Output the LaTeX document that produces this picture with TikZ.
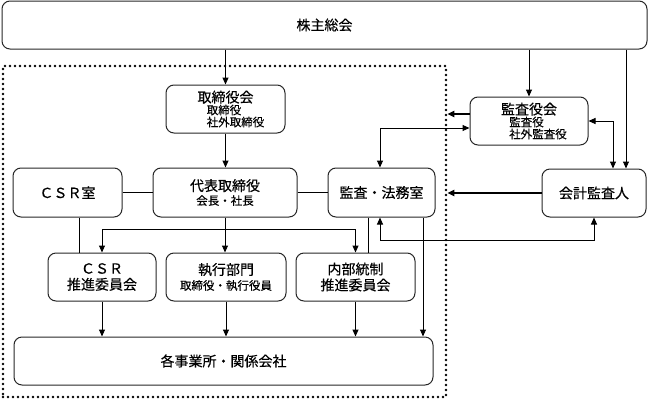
\documentclass[tikz,border=0pt]{standalone}
\usepackage{fontspec}
\setmainfont{Noto Sans CJK JP}[FakeBold=0.4]
\usetikzlibrary{arrows.meta, positioning, calc}
\newcommand{\yaku}[1]{{\fontsize{11.5}{12}\selectfont #1}}

\begin{document}
\begin{tikzpicture}[x=1pt, y=-1pt,
    box/.style={draw=black!85, line width=1pt, rounded corners=8pt, align=center, inner sep=0pt, font=\fontsize{14}{16}\selectfont},
    dotbox/.style={draw=black, line width=2.6pt, dash pattern=on 0pt off 5pt, line cap=round, inner sep=0pt},
    arr/.style={line width=1pt, -{Triangle[length=7pt,width=6pt]}},
    dblarr/.style={line width=1pt, {Triangle[length=7pt,width=6pt]}-{Triangle[length=7pt,width=6pt]}},
    thickarr/.style={line width=2pt, -{Triangle[length=7pt,width=6pt]}}]
    \useasboundingbox (0,0) rectangle (649,400);
    % shareholders at the top
    \node[box, minimum width=645pt, minimum height=48pt] (soukai) at (324.5,25) {株主総会};
    % dotted frame round the executive side
    \node[dotbox, minimum width=443pt, minimum height=331pt] (shikkouwaku) at (224.5,231.5) {};
    \node[box, minimum width=119pt, minimum height=48pt] (torikai) at (225.5,109)
        {取締役会\\[-4pt]\yaku{\hspace*{20pt}取締役\hphantom{取締}}\\[-4pt]\yaku{\hspace*{20pt}社外取締役}};
    \node[box, minimum width=144pt, minimum height=49pt] (daihyo) at (225,192.5) {代表取締役\\[-2pt]\yaku{会長・社長}};
    \node[box, minimum width=109pt, minimum height=49pt] (csrshitsu) at (67.5,192.5) {ＣＳＲ室};
    \node[box, minimum width=107pt, minimum height=49pt] (houmu) at (381.5,192.5) {監査・法務室};
    \node[box, minimum width=108pt, minimum height=48pt] (csrsuishin) at (102,277) {ＣＳＲ\\推進委員会};
    \node[box, minimum width=120pt, minimum height=48pt] (shikko) at (226,277) {執行部門\\[-1pt]\yaku{取締役・執行役員}};
    \node[box, minimum width=119pt, minimum height=48pt] (naibu) at (355.5,277) {内部統制\\推進委員会};
    \node[box, minimum width=419pt, minimum height=48pt] (jigyo) at (223.5,361) {各事業所・関係会社};
    % audit side
    \node[box, minimum width=118pt, minimum height=48pt] (kansa) at (529,121)
        {監査役会\\[-4pt]\yaku{\hspace*{18pt}監査役\hphantom{社外}}\\[-4pt]\yaku{\hspace*{18pt}社外監査役}};
    \node[box, minimum width=104pt, minimum height=48pt] (kaikei) at (594,193) {会計監査人};

    % executive lines
    \draw[arr] (soukai.south -| torikai.north) -- (torikai.north);
    \draw[arr] (torikai.south) -- (torikai.south |- daihyo.north);
    \draw[line width=1pt] (csrshitsu) -- (daihyo);
    \draw[line width=1pt] (daihyo) -- (houmu);
    \draw[arr] (daihyo.south) -- (daihyo.south |- shikko.north);
    \coordinate (bunki) at ([yshift=-12pt]daihyo.south);
    \draw[arr] (bunki) -| (csrsuishin.north);
    \draw[arr] (bunki) -| (naibu.north);
    \draw[line width=1pt] ([xshift=11.5pt]csrshitsu.south) -- ([xshift=11.5pt]csrshitsu.south |- csrsuishin.north);
    \draw[line width=1pt] ([xshift=-13.5pt]houmu.south) -- ([xshift=-13.5pt]houmu.south |- naibu.north);
    \draw[arr] ([xshift=41.5pt]houmu.south) -- ([xshift=41.5pt]houmu.south |- jigyo.north);
    \foreach \n in {csrsuishin, shikko, naibu}
        \draw[arr] (\n.south) -- (\n.south |- jigyo.north);

    % audit lines
    \draw[arr] (soukai.south -| kansa.north) -- (kansa.north);
    \coordinate (kaikeiue) at ([xshift=32pt]kaikei.north);
    \draw[arr] (soukai.south -| kaikeiue) -- (kaikeiue);
    \draw[dblarr] (kansa.east) -| ([xshift=19pt]kaikei.north);
    \draw[dblarr] ([xshift=-1.5pt]houmu.north) |- ([yshift=-7pt]kansa.west);
    \draw[dblarr] ([xshift=-1.5pt]houmu.south) -- ++(0,23) -| (kaikei.south);
    \draw[thickarr] ([yshift=7pt]kansa.west) -- ([yshift=7pt]kansa.west -| shikkouwaku.east);
    \draw[thickarr] (kaikei.west) -- (kaikei.west -| shikkouwaku.east);
\end{tikzpicture}
\end{document}
